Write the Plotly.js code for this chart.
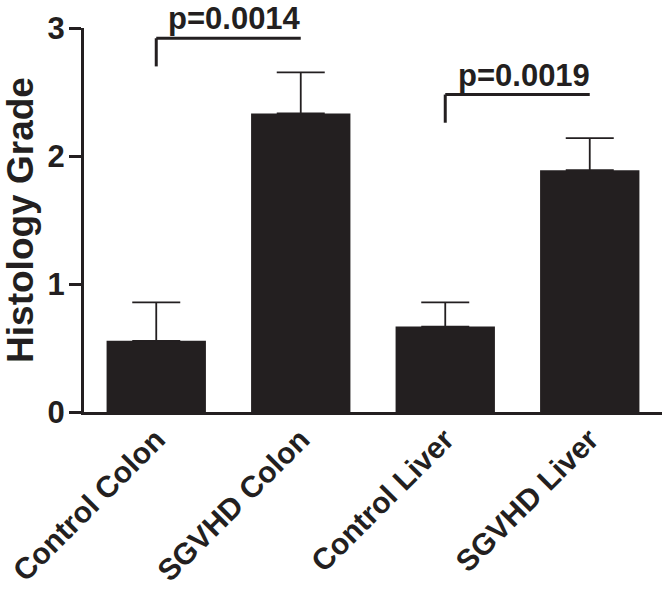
<!DOCTYPE html>
<html>
<head>
<meta charset="utf-8">
<script src="https://cdn.plot.ly/plotly-3.0.1.min.js"></script>
<style>html,body{margin:0;padding:0;background:#fff;}#chart{width:662px;height:597px;}</style>
</head>
<body>
<div id="chart"></div>
<script>
var categories = ["Control Colon", "SGVHD Colon", "Control Liver", "SGVHD Liver"];
var grades = [0.556, 2.333, 0.667, 1.889];
var sem = [0.30, 0.32, 0.19, 0.25];
var yTicks = [0, 1, 2, 3];
var comparisons = [
  {from: "Control Colon", to: "SGVHD Colon", level: 2.92, leg: 2.70, label: "p=0.0014"},
  {from: "Control Liver", to: "SGVHD Liver", level: 2.48, leg: 2.26, label: "p=0.0019"}
];

var ink = "#231f20";
var fontFam = "Liberation Sans, Arial, Helvetica, sans-serif";

var trace = {
  type: "bar",
  x: categories,
  y: grades,
  marker: {color: ink, line: {width: 0}},
  error_y: {
    type: "data",
    symmetric: false,
    array: sem,
    arrayminus: sem.map(function(){return 0;}),
    color: ink,
    thickness: 1.8,
    width: 24
  },
  hoverinfo: "none"
};

var shapes = [];
var annotations = [];
comparisons.forEach(function(c){
  shapes.push({type: "line", xref: "x", yref: "y", x0: c.from, x1: c.to, y0: c.level, y1: c.level,
    line: {color: ink, width: 3}});
  shapes.push({type: "line", xref: "x", yref: "y", x0: c.from, x1: c.from, y0: c.level, y1: c.leg,
    line: {color: ink, width: 3}});
  annotations.push({xref: "x", yref: "y", x: c.to, y: c.level, xanchor: "right", yanchor: "bottom",
    text: c.label, showarrow: false, xshift: 2,
    font: {family: fontFam, size: 31, color: ink, weight: "bold"}});
});

var layout = {
  width: 662, height: 597,
  margin: {l: 84, r: 0, t: 28, b: 185},
  paper_bgcolor: "#fff", plot_bgcolor: "#fff",
  showlegend: false,
  bargap: 0.3125,
  font: {family: fontFam, color: ink, weight: "bold"},
  xaxis: {
    type: "category",
    range: [-0.5, 3.5],
    showline: true, linewidth: 3, linecolor: ink,
    ticks: "", showgrid: false, zeroline: false,
    tickangle: -45,
    ticklabelstandoff: -5,
    tickfont: {family: fontFam, size: 30, color: ink, weight: "bold"}
  },
  yaxis: {
    range: [0, 3],
    tickvals: yTicks,
    ticktext: yTicks.map(String),
    showline: true, linewidth: 3, linecolor: ink,
    ticks: "outside", ticklen: 12, tickwidth: 3, tickcolor: ink,
    ticklabelstandoff: -2,
    showgrid: false, zeroline: false,
    tickfont: {family: fontFam, size: 31, color: ink, weight: "bold"},
    title: {text: "Histology Grade", standoff: 18,
      font: {family: fontFam, size: 37, color: ink, weight: "bold"}}
  },
  shapes: shapes,
  annotations: annotations
};

Plotly.newPlot("chart", [trace], layout, {staticPlot: true, displayModeBar: false});
</script>
</body>
</html>
